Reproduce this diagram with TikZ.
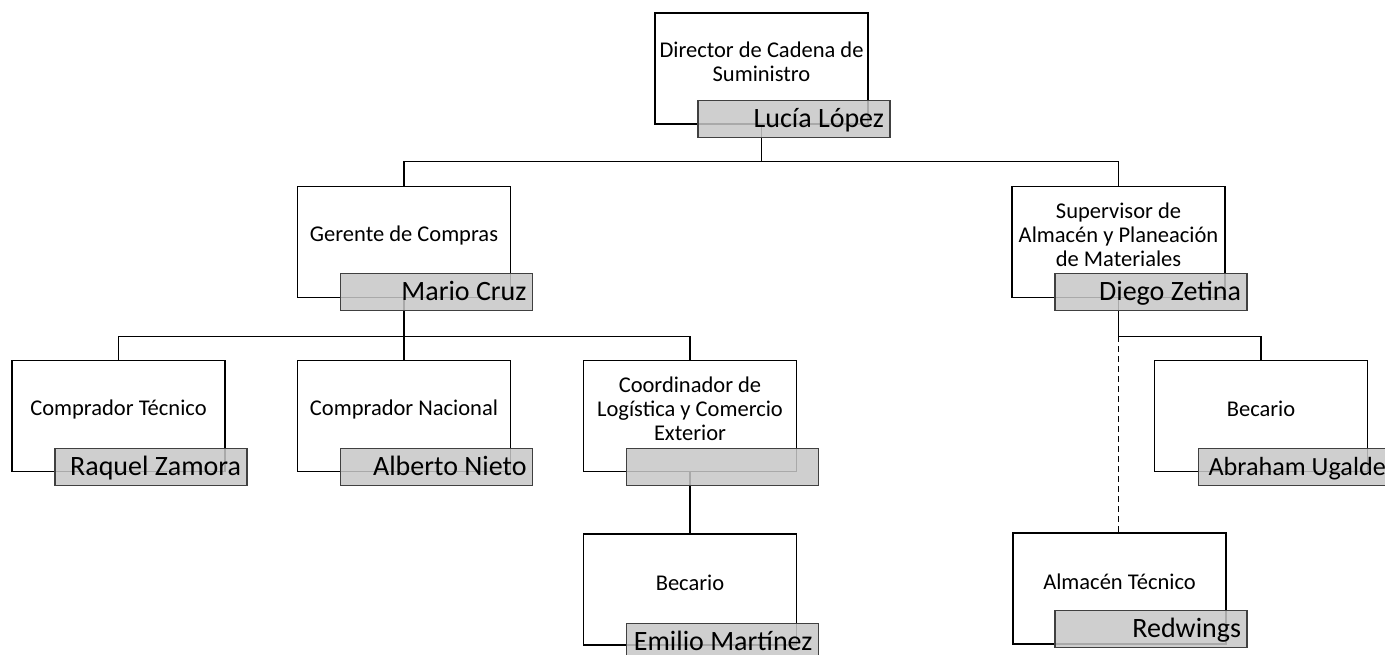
\documentclass[tikz,border=0pt]{standalone}
\usepackage{fontspec}
\setmainfont{Carlito}
\usepackage[rgb]{xcolor}
\usepackage{tikz}
\usetikzlibrary{positioning}

\newcommand\titlefont{\fontsize{22.5}{24}\selectfont}
\newcommand\namefont{\fontsize{28}{30}\selectfont}
\newcommand\rname[1]{\makebox[180pt][r]{#1}}

\tikzset{
  postbox/.style={draw=black, line width=1.3pt, fill=white, minimum width=213pt, minimum height=111pt, inner sep=0pt},
  namebox/.style={draw=black!75, line width=1.3pt, fill=black!22, fill opacity=0.85, text opacity=1,
    inner xsep=6pt, inner ysep=5pt, text height=22pt, text depth=5pt,
    minimum width=192pt, minimum height=37pt, font=\namefont, anchor=north west},
  posttext/.style={align=center, font=\titlefont, inner sep=0pt},
  link/.style={line width=1.3pt},
}

\begin{document}
\begin{tikzpicture}[x=1pt, y=-1pt]

\useasboundingbox (0,0) rectangle (1385,654);


% Puestos
\path
(761.5, 68.5) node[postbox] (dir) {}
(404, 242)    node[postbox] (ger) {}
(1118.5, 242) node[postbox] (sup) {}
(118.5, 416)  node[postbox] (ctec) {}
(404, 416)    node[postbox] (cnac) {}
(690, 416)    node[postbox] (coord) {}
(1261, 416)   node[postbox] (becsup) {}
(690, 589.5)  node[postbox] (beccoord) {}
(1119.5, 588.5) node[postbox] (alm) {};


% Lineas de mando
\draw[link] (dir.south) -- ++(0,37) -| (ger.north);
\draw[link] (dir.south) -- ++(0,37) -| (sup.north);

\draw[link] (ger.south) -- ++(0,38) coordinate (gerjoin) -| (ctec.north);
\draw[link] (gerjoin) -- (cnac.north);
\draw[link] (gerjoin) -| (coord.north);

\draw[link] (sup.south) -- ++(0,38) coordinate (supjoin) -| (becsup.north);
\draw[link, line width=1.5pt, dash pattern=on 6pt off 4pt] (supjoin) -- (supjoin |- alm.north);

\draw[link] (coord.south) -- (beccoord.north);


% Nombres
\node[namebox] (dirname)   at ([xshift=43pt, yshift=25pt]dir.south west) {\rname{Lucía López}};
\node[namebox] (gername)   at ([xshift=43pt, yshift=25pt]ger.south west) {\rname{Mario Cruz}};
\node[namebox] (supname)   at ([xshift=43pt, yshift=25pt]sup.south west) {\rname{Diego Zetina}};
\node[namebox] (ctecname)  at ([xshift=43pt, yshift=24pt]ctec.south west) {\rname{Raquel Zamora}};
\node[namebox] (cnacname)  at ([xshift=43pt, yshift=24pt]cnac.south west) {\rname{Alberto Nieto}};
\node[namebox] (coordname) at ([xshift=43pt, yshift=24pt]coord.south west) {\rname{}};
\node[namebox] (becsupname) at ([xshift=44pt, yshift=24pt]becsup.south west)
  {\makebox[180pt][l]{\hspace{4pt}\fontsize{26.2}{30}\selectfont Abraham Ugalde}};
\node[namebox] (beccoordname) at ([xshift=43pt, yshift=23pt]beccoord.south west) {\rname{Emilio Martínez}};
\node[namebox] (almname)   at ([xshift=42pt, yshift=35pt]alm.south west) {\rname{Redwings}};


% Cargos
\node[posttext] at ([yshift=7pt]dir.center) {Director de Cadena de\\Suministro};
\node[posttext] at ([yshift=7pt]ger.center) {Gerente de Compras};
\node[posttext] at ([yshift=7pt]sup.center) {Supervisor de\\Almacén y Planeación\\de Materiales};
\node[posttext] at ([yshift=7pt]ctec.center) {Comprador Técnico};
\node[posttext] at ([yshift=7pt]cnac.center) {Comprador Nacional};
\node[posttext] at ([yshift=7pt]coord.center) {Coordinador de\\Logística y Comercio\\Exterior};
\node[posttext] at ([yshift=7pt]becsup.center) {Becario};
\node[posttext] at ([yshift=7pt]beccoord.center) {Becario};
\node[posttext] at ([yshift=7pt]alm.center) {Almacén Técnico};


\end{tikzpicture}
\end{document}
